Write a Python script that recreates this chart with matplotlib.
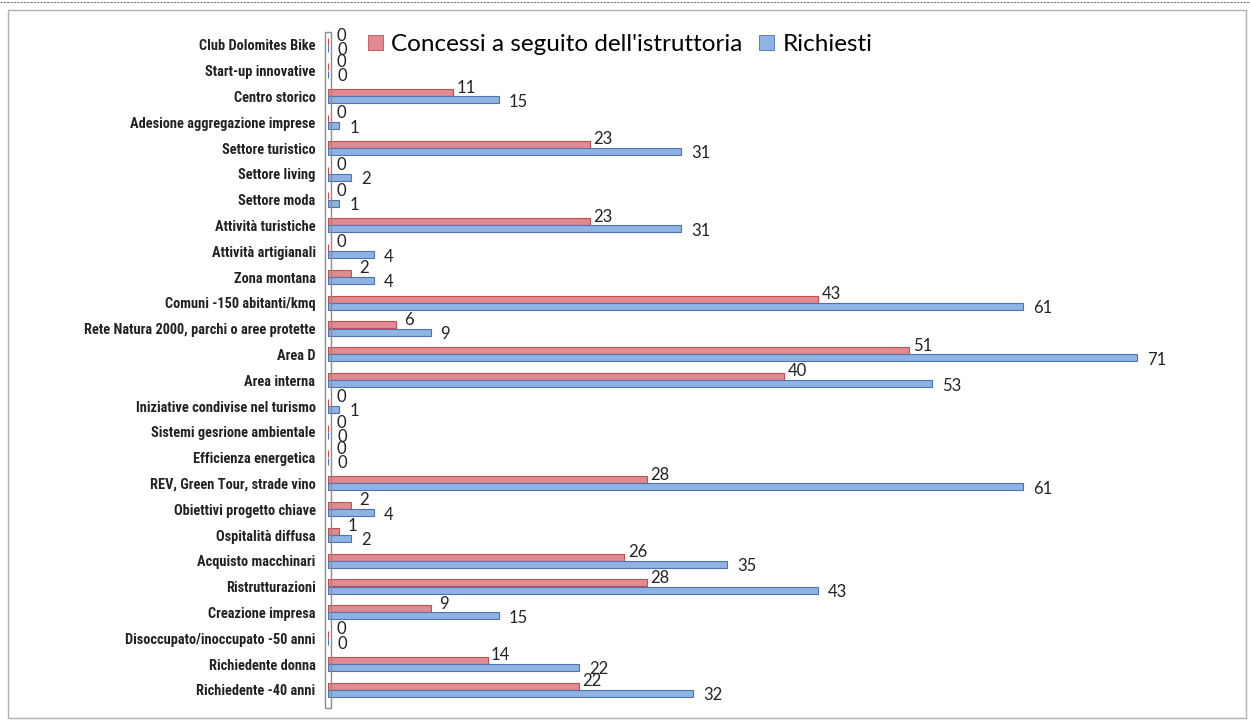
import numpy as np
import matplotlib
matplotlib.use("Agg")
import matplotlib.pyplot as plt
from matplotlib import font_manager
from matplotlib.patches import Rectangle, Patch
from matplotlib.lines import Line2D

# categories as shown, top to bottom
categories = [
    "Club Dolomites Bike", "Start-up innovative", "Centro storico",
    "Adesione aggregazione imprese", "Settore turistico", "Settore living",
    "Settore moda", "Attività turistiche", "Attività artigianali", "Zona montana",
    "Comuni -150 abitanti/kmq", "Rete Natura 2000, parchi o aree protette",
    "Area D", "Area interna", "Iniziative condivise nel turismo",
    "Sistemi gesrione ambientale", "Efficienza energetica",
    "REV, Green Tour, strade vino", "Obiettivi progetto chiave",
    "Ospitalità diffusa", "Acquisto macchinari", "Ristrutturazioni",
    "Creazione impresa", "Disoccupato/inoccupato -50 anni",
    "Richiedente donna", "Richiedente -40 anni",
]
concessi = [0, 0, 11, 0, 23, 0, 0, 23, 0, 2, 43, 6, 51, 40, 0, 0, 0, 28, 2, 1, 26, 28, 9, 0, 14, 22]
richiesti = [0, 0, 15, 1, 31, 2, 1, 31, 4, 4, 61, 9, 71, 53, 1, 0, 0, 61, 4, 2, 35, 43, 15, 0, 22, 32]

RED_FC, RED_EC = "#E28A92", "#C0504D"
BLUE_FC, BLUE_EC = "#8FB4E3", "#4F73B0"
VAL_FONT = ["Lato", "DejaVu Sans"]

# narrow bold face for the category names, whatever is installed
names = {f.name for f in font_manager.fontManager.ttflist}
narrow = [n for n in ("Liberation Sans Narrow", "Roboto Condensed", "Open Sans Condensed",
                      "DejaVu Sans Condensed") if n in names]
if narrow:
    LABEL_KW = dict(family=[narrow[0], "DejaVu Sans"], fontsize=10.4)
else:
    LABEL_KW = dict(family=["DejaVu Sans"], stretch="condensed", fontsize=8.2)

W, H = 1250, 721
fig = plt.figure(figsize=(W / 100, H / 100), dpi=100)
ax = fig.add_axes([328 / W, 1 - 708 / H, (1240 - 328) / W, (708 - 32) / H])

y = np.arange(len(categories))
bh = 0.27
ax.barh(y - 0.15, concessi, height=bh, color=RED_FC, edgecolor=RED_EC, lw=0.8)
ax.barh(y + 0.13, richiesti, height=bh, color=BLUE_FC, edgecolor=BLUE_EC, lw=0.8)

for yi, v in zip(y, concessi):
    ax.annotate(str(v), (v, yi - 0.15), xytext=(13, 5), textcoords="offset pixels",
                ha="center", va="center", fontsize=12, family=VAL_FONT, color="#222222")
for yi, v in zip(y, richiesti):
    ax.annotate(str(v), (v, yi + 0.13), xytext=(10, -2), textcoords="offset pixels",
                ha="left", va="center", fontsize=12, family=VAL_FONT, color="#222222")

ax.set_xlim(0, (1240 - 328) / 11.4)
ax.set_ylim(len(categories) - 0.3, -0.5)
ax.set_yticks(y)
ax.set_yticklabels(categories, fontweight="bold", color="#222222", **LABEL_KW)
ax.tick_params(axis="y", length=0, pad=9)
ax.set_xticks([])
for s in ax.spines.values():
    s.set_visible(False)

# thin 3D wall along the category axis
ax.add_patch(Rectangle((-0.3, -0.5), 0.6, len(categories) + 0.2, fill=False,
                       ec="#8C8C8C", lw=1.0, clip_on=False))

handles = [Patch(facecolor=RED_FC, edgecolor=RED_EC, lw=0.6),
           Patch(facecolor=BLUE_FC, edgecolor=BLUE_EC, lw=0.6)]
fig.legend(handles, ["Concessi a seguito dell'istruttoria", "Richiesti"],
           loc="upper left", bbox_to_anchor=(368 / W, 1 - 34 / H), ncol=2,
           frameon=False, prop={"family": VAL_FONT, "size": 17.5},
           handlelength=0.6, handleheight=0.6, handletextpad=0.35,
           columnspacing=0.7, borderpad=0, borderaxespad=0)

# outer chart frame and the dashed line above it
fig.add_artist(Rectangle((8 / W, 1 - 718 / H), (1246 - 8) / W, (718 - 10) / H,
                         transform=fig.transFigure, fill=False, ec="#B0B0B0", lw=1.0))
fig.add_artist(Line2D([0, 1], [1 - 2 / H, 1 - 2 / H], transform=fig.transFigure,
                      color="#777777", lw=0.8, ls=(0, (2, 1))))

fig.savefig("out.png", dpi=100)
